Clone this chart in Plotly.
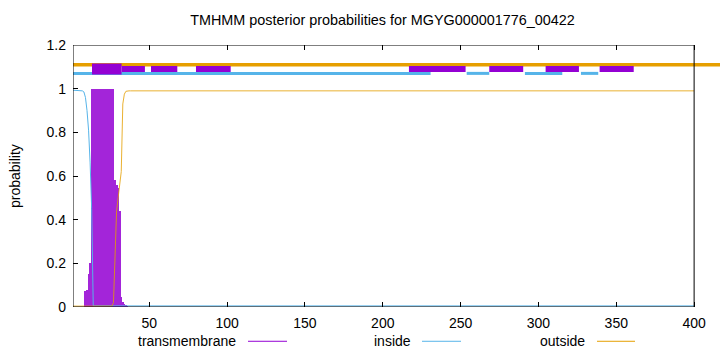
import plotly.graph_objects as go

# ---------------- data ----------------
residues = list(range(1, 401))

# transmembrane posterior probability (impulses)
tm_head = [0.0, 0.0, 0.0, 0.0, 0.0, 0.0, 0.0, 0.0,
           0.073, 0.08, 0.153, 0.2,
           1.0, 1.0, 1.0, 1.0, 1.0, 1.0, 1.0, 1.0, 1.0, 1.0, 1.0, 1.0, 1.0, 1.0, 1.0,
           0.58, 0.56, 0.545, 0.44, 0.047, 0.024, 0.015, 0.008, 0.004]
tm_tail_value = 0.0
transmembrane = tm_head + [tm_tail_value] * (400 - len(tm_head))

# inside probability
in_head = [0.993, 0.993, 0.993, 0.993, 0.993, 0.992, 0.99, 0.985, 0.96, 0.9,
           0.81, 0.66, 0.45, 0.005]
in_tail_value = 0.005
inside = in_head + [in_tail_value] * (400 - len(in_head))

# outside probability
out_head = [0.004] * 26 + [0.02, 0.22, 0.44, 0.5, 0.55, 0.62, 0.93, 0.975, 0.988]
out_tail_value = 0.99
outside = out_head + [out_tail_value] * (400 - len(out_head))

# predicted topology segments drawn above the curves (residue start, end)
outside_segments = [(1, 430)]
inside_segments = [(1, 230.7), (253.9, 268.4), (291.3, 315.3), (327.3, 338.4)]
tm_segments_main = [(13.2, 32.2)]
tm_segments = [(32.2, 47.2), (51.1, 68.0), (80.0, 102.3), (216.8, 253.2),
               (268.4, 290.2), (304.6, 326.0), (339.3, 361.2)]

x_ticks = [50, 100, 150, 200, 250, 300, 350, 400]
y_ticks = [0, 0.2, 0.4, 0.6, 0.8, 1.0, 1.2]
y_tick_labels = ["0", "0.2", "0.4", "0.6", "0.8", "1", "1.2"]

title_text = "TMHMM posterior probabilities for MGYG000001776_00422"
legend_names = ["transmembrane", "inside", "outside"]

# ---------------- styles / layout ----------------
W, H = 720, 352
ML, MR, MT, MB = 73, 0, 44.5, 45.3
PLOT_W = W - ML - MR
PLOT_H = H - MT - MB
PX_PER_RES = 1.5567
X_MIN = 1
X_MAX_FRAME = 400
X_MAX = X_MIN + PLOT_W / PX_PER_RES

PURPLE = "#9400D3"
BLUE = "#56B4E9"
ORANGE = "#E69F00"
FONT = "Liberation Sans, Arial, sans-serif"
FS = 14


def seg_xy(segments, level):
    xs, ys = [], []
    for a, b in segments:
        xs += [a, b, None]
        ys += [level, level, None]
    return xs, ys


def pxx(px):
    return (px - ML) / PLOT_W


def pxy(py):
    return (H - MB - py) / PLOT_H


fig = go.Figure()

fig.add_trace(go.Bar(x=residues, y=transmembrane, width=0.6,
                     marker=dict(color=PURPLE, line=dict(width=0)),
                     opacity=0.85, showlegend=False))
fig.add_trace(go.Scatter(x=residues, y=inside, mode="lines",
                         line=dict(color=BLUE, width=1), showlegend=False))
fig.add_trace(go.Scatter(x=residues, y=outside, mode="lines", opacity=0.8,
                         line=dict(color=ORANGE, width=1), showlegend=False))

xs, ys = seg_xy(outside_segments, 1.11)
fig.add_trace(go.Scatter(x=xs, y=ys, mode="lines",
                         line=dict(color=ORANGE, width=3.5), showlegend=False))
xs, ys = seg_xy(inside_segments, 1.07)
fig.add_trace(go.Scatter(x=xs, y=ys, mode="lines",
                         line=dict(color=BLUE, width=3), showlegend=False))
xs, ys = seg_xy(tm_segments, 1.09)
fig.add_trace(go.Scatter(x=xs, y=ys, mode="lines",
                         line=dict(color=PURPLE, width=6), showlegend=False))
xs, ys = seg_xy(tm_segments_main, 1.09)
fig.add_trace(go.Scatter(x=xs, y=ys, mode="lines",
                         line=dict(color=PURPLE, width=11), showlegend=False))

shapes = [
    # plot frame
    dict(type="rect", xref="x", yref="y", x0=X_MIN, x1=X_MAX_FRAME, y0=0, y1=1.2,
         line=dict(color="black", width=1), layer="above"),
]
# legend samples
legend_lines = [(248, 287, PURPLE), (422, 461, BLUE), (597, 635, ORANGE)]
for x0, x1, c in legend_lines:
    shapes.append(dict(type="line", xref="paper", yref="paper",
                       x0=pxx(x0), x1=pxx(x1), y0=pxy(341), y1=pxy(341),
                       line=dict(color=c, width=1)))

annotations = [
    dict(text="probability", textangle=-90, xref="paper", yref="paper",
         x=pxx(15), y=0.5, xanchor="center", yanchor="middle", showarrow=False,
         font=dict(family=FONT, size=FS, color="black")),
]
for name, xr in zip(legend_names, [238, 413, 587]):
    annotations.append(dict(text=name, xref="paper", yref="paper",
                            x=pxx(xr), y=pxy(341), xanchor="right", yanchor="middle",
                            showarrow=False,
                            font=dict(family=FONT, size=FS, color="black")))

fig.update_layout(
    width=W, height=H,
    margin=dict(l=ML, r=MR, t=MT, b=MB, pad=0),
    paper_bgcolor="white", plot_bgcolor="white",
    bargap=0,
    title=dict(text=title_text, x=382.5 / W, xref="container", xanchor="center",
               y=1 - 20 / H, yref="container", yanchor="middle",
               font=dict(family=FONT, size=14.4, color="black")),
    font=dict(family=FONT, size=FS, color="black"),
    xaxis=dict(range=[X_MIN, X_MAX], tickvals=x_ticks, ticks="inside", ticklen=5,
               tickcolor="black", showgrid=False, zeroline=False, showline=False,
               mirror="ticks", ticklabelstandoff=6,
               tickfont=dict(family=FONT, size=FS, color="black")),
    yaxis=dict(range=[0, 1.2], tickvals=y_ticks, ticktext=y_tick_labels,
               ticks="inside", ticklen=5, tickcolor="black", showgrid=False,
               zeroline=False, showline=False, ticklabelstandoff=6,
               tickfont=dict(family=FONT, size=FS, color="black")),
    shapes=shapes,
    annotations=annotations,
)

fig.write_html("out.html")
